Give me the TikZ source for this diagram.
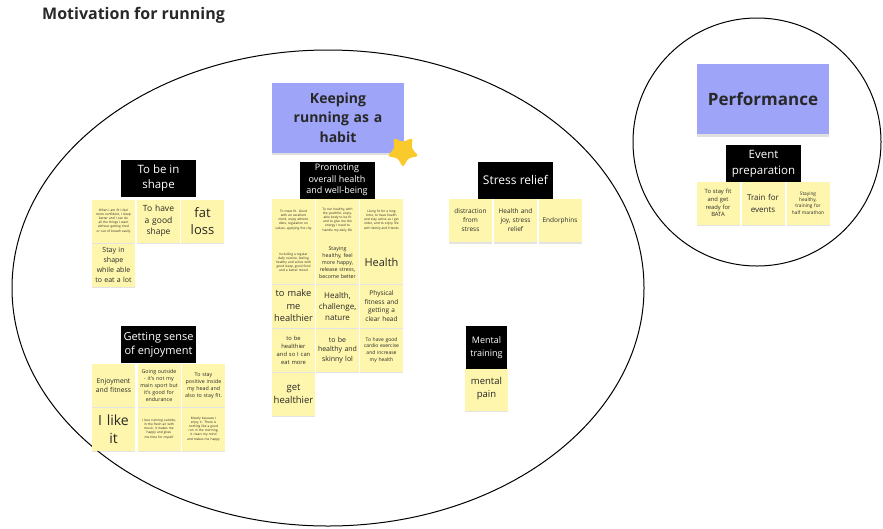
\documentclass[tikz,border=0pt]{standalone}
\usepackage{fontspec}
\setmainfont{Open Sans}
\usetikzlibrary{shapes.geometric,shadows}
\definecolor{notey}{RGB}{254,246,172}
\definecolor{themep}{RGB}{158,164,247}
\definecolor{stary}{RGB}{250,201,44}
\definecolor{inkdark}{RGB}{40,40,40}

\begin{document}
\begin{tikzpicture}[x=1pt,y=-1pt,
  fs/.style 2 args={font=\fontsize{#1}{#2}\selectfont},
  fb/.style 2 args={font=\bfseries\fontsize{#1}{#2}\selectfont},
  note/.style={fill=notey,text=inkdark,minimum width=43pt,minimum height=43pt,
    text width=40pt,align=center,inner sep=1pt,fs={7}{9},
    drop shadow={shadow xshift=0pt,shadow yshift=-1.8pt,opacity=.22}},
  tiny/.style={note,text width=37pt,fs={3.2}{4.1}},
  hdr/.style={fill=black,text=white,align=center,inner sep=1pt,
    minimum width=75pt,minimum height=37pt,fs={11.5}{15}},
  theme/.style={fill=themep,text=inkdark,align=center,text width=120pt,
    minimum width=132pt,minimum height=70pt,
    drop shadow={shadow xshift=0pt,shadow yshift=-2.5pt,opacity=.25}},
  ring/.style={draw=black,line width=1pt}]
\useasboundingbox (0,0) rectangle (883,528);
\node[anchor=west,fb={16}{18},text=inkdark,inner sep=0] (title) at (42,15) {Motivation for running};
% the two groups
\draw[ring] (328,288) ellipse [x radius=316,y radius=238];
\draw[ring] (757,142) circle [radius=124];
% themes
\node[theme,fb={14}{19.5}] (habit) at (338,117.5) {Keeping\\running as a\\habit};
\node[star,star points=5,star point ratio=.55,minimum size=18pt,inner sep=0,
  fill=stary,rounded corners=2.5pt,font=\fontsize{1}{1}\selectfont] (star) at (403,151) {};
\node[theme,fb={17}{20}] (perf) at (763,99) {Performance};
% to be in shape
\node[tiny] (sh1) at (113.5,221) {When I am fit I feel more confident, I sleep better and I can do all the things I want without getting tired or out of breath easily};
\node[note,fs={8.5}{11.5}] (sh2) at (158.5,221) {To have\\a good\\shape};
\node[note,fs={13}{17}] (sh3) at (202.5,221) {fat\\loss};
\node[note,fs={7}{10}] (sh4) at (113.5,265) {Stay in\\shape\\while able\\to eat a lot};
\node[hdr] (shape) at (158.5,178) {To be in\\shape};
% promoting overall health
\node[tiny] (ph1) at (293.5,220) {To meet fit. Good with an excellent mind, enjoy athletic diets, regulation on values, applying the city};
\node[tiny] (ph2) at (337.5,220) {To run healthy, with the youthful, enjoyable body to be fit and to give me the energy I need to handle my daily life};
\node[tiny] (ph3) at (381.5,220) {Living fit for a long time, to have health and stay active as I get older, and to enjoy life with family and friends};
\node[tiny] (ph4) at (293.5,262.5) {Including a regular daily routine, feeling healthy and active with good sleep, good food and a better mood};
\node[note,fs={5.3}{7.2}] (ph5) at (337.5,262.5) {Staying\\healthy, feel\\more happy,\\release stress,\\become better};
\node[note,fs={11}{13}] (ph6) at (381.5,262.5) {Health};
\node[note,fs={9.3}{12.5}] (ph7) at (293.5,306) {to make\\me\\healthier};
\node[note,fs={8}{11}] (ph8) at (337.5,306) {Health,\\challenge,\\nature};
\node[note,fs={6.5}{8.5}] (ph9) at (381.5,306) {Physical\\fitness and\\getting a\\clear head};
\node[note,fs={5.8}{8}] (ph10) at (293.5,350) {to be\\healthier\\and so I can\\eat more};
\node[note,fs={7}{9.5}] (ph11) at (337.5,350) {to be\\healthy and\\skinny lol};
\node[note,fs={5}{6.8}] (ph12) at (381.5,350) {To have good\\cardio exercise\\and increase\\my health};
\node[note,fs={9.5}{12.5}] (ph13) at (293.5,394) {get\\healthier};
\node[hdr,fs={9}{11.5}] (health) at (337,180) {Promoting\\overall health\\and well-being};
% stress relief
\node[note,fs={6.5}{9}] (sr1) at (470.5,220.5) {distraction\\from\\stress};
\node[note,fs={6.5}{9}] (sr2) at (515.5,220.5) {Health and\\joy, stress\\relief};
\node[note,fs={6.5}{9}] (sr3) at (560,220.5) {Endorphins};
\node[hdr,fs={12}{14}] (stress) at (515.5,180) {Stress relief};
% enjoyment
\node[note,fs={6.8}{9}] (en1) at (113.5,385.5) {Enjoyment\\and fitness};
\node[note,fs={5.3}{7}] (en2) at (159,385.5) {Going outside\\- it's not my\\main sport but\\it's good for\\endurance};
\node[note,fs={5.3}{7}] (en3) at (203.5,385.5) {To stay\\positive inside\\my head and\\also to stay fit.};
\node[note,fs={14}{18}] (en4) at (113.5,429) {I like\\it};
\node[tiny] (en5) at (159,429) {I love running outside, in the fresh air with music, it makes me happy and gives me time for myself};
\node[tiny] (en6) at (203.5,429) {Mostly because I enjoy it. There is nothing like a good run in the morning, it clears my mind and makes me happy};
\node[hdr,fs={11}{14}] (enjoy) at (158.5,344.5) {Getting sense\\of enjoyment};
% mental training
\node[note,fs={9.5}{13}] (mt1) at (486.5,389) {mental\\pain};
\node[hdr,fs={9}{13},minimum width=41pt,minimum height=43pt] (mental) at (486.5,347.5) {Mental\\training};
% event preparation
\node[note,fs={5.8}{7.8}] (ev1) at (718,203) {To stay fit\\and get\\ready for\\BATA};
\node[note,fs={8}{12}] (ev2) at (763,203) {Train for\\events};
\node[note,fs={4.8}{6.3}] (ev3) at (808,203) {Staying\\healthy,\\training for\\half marathon};
\node[hdr,fs={11.5}{16}] (event) at (763.5,163.5) {Event\\preparation};
\end{tikzpicture}
\end{document}
